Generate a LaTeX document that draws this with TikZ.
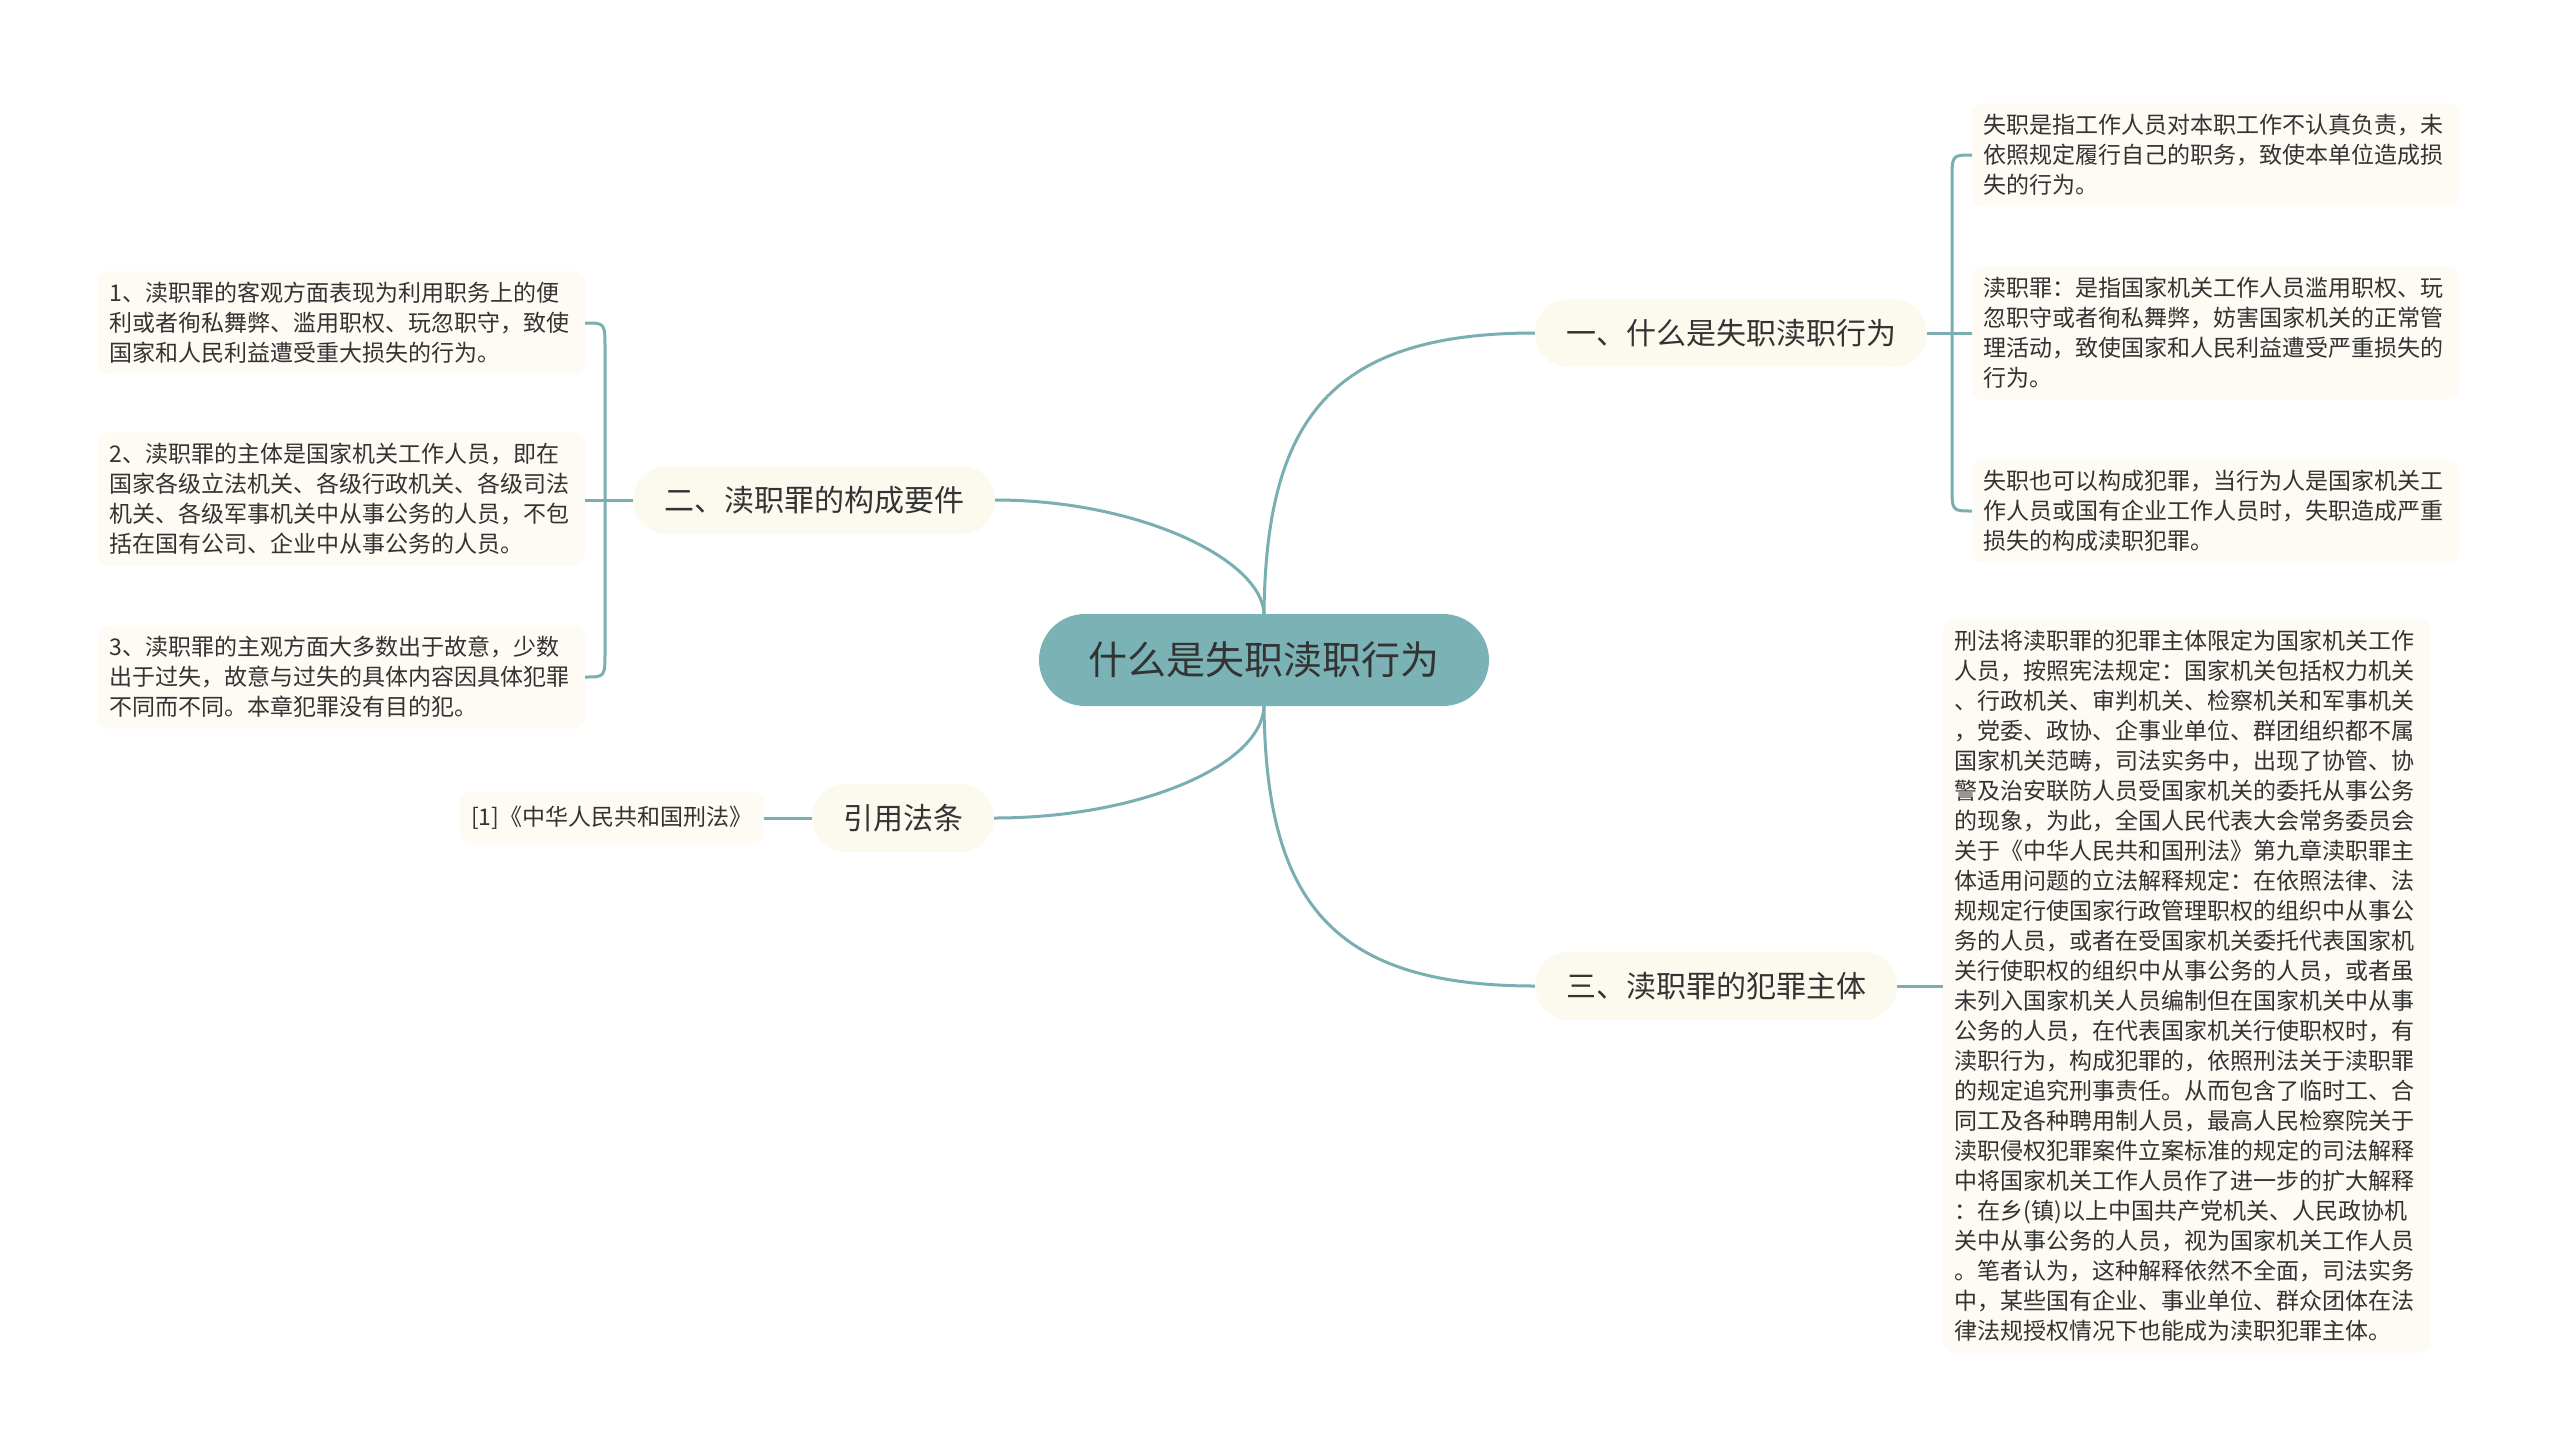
\documentclass[tikz,border=0pt]{standalone}
\usepackage{fontspec}
\setmainfont{Noto Sans CJK SC}

\definecolor{rootfill}{HTML}{7AB2B5}
\definecolor{linkcol}{HTML}{79AFB1}
\definecolor{topicfill}{HTML}{FCF9EF}
\definecolor{leaffill}{HTML}{FDFBF4}
\definecolor{ink}{HTML}{333333}

\begin{document}
\begin{tikzpicture}[x=1pt, y=-1pt,
	rootnode/.style={fill=rootfill, text=ink, rounded corners=46pt, minimum height=92pt, minimum width=450pt, font=\fontsize{39}{46}\selectfont},
	topic/.style={fill=topicfill, text=ink, rounded corners=34pt, minimum height=68pt, inner xsep=31pt, font=\fontsize{30}{36}\selectfont},
	leaf/.style={fill=leaffill, text=ink, rounded corners=10pt, text width=464pt, inner xsep=11.5pt, inner ysep=11pt, align=left, font=\fontsize{23}{30}\selectfont},
	refleaf/.style={fill=leaffill, text=ink, rounded corners=10pt, minimum height=52pt, minimum width=304pt, font=\fontsize{23}{30}\selectfont},
	link/.style={draw=linkcol, line width=3pt}]

		\useasboundingbox[fill=white] (0,0) rectangle (2560,1454);

		\node[rootnode] (root) at (1264,660) {什么是失职渎职行为};
		\node[topic] (t1) at (1731,333) {一、什么是失职渎职行为};
		\node[topic] (t2) at (814,500) {二、渎职罪的构成要件};
		\node[topic] (t3) at (1716,986) {三、渎职罪的犯罪主体};
		\node[topic] (t4) at (903,818) {引用法条};

		\node[leaf, anchor=west] (a1) at (1972,155) {失职是指工作人员对本职工作不认真负责，未\\依照规定履行自己的职务，致使本单位造成损\\失的行为。};
		\node[leaf, anchor=west] (a2) at (1972,333) {渎职罪：是指国家机关工作人员滥用职权、玩\\忽职守或者徇私舞弊，妨害国家机关的正常管\\理活动，致使国家和人民利益遭受严重损失的\\行为。};
		\node[leaf, anchor=west] (a3) at (1972,511) {失职也可以构成犯罪，当行为人是国家机关工\\作人员或国有企业工作人员时，失职造成严重\\损失的构成渎职犯罪。};

		\node[leaf, anchor=east] (b1) at (585,323) {1、渎职罪的客观方面表现为利用职务上的便\\利或者徇私舞弊、滥用职权、玩忽职守，致使\\国家和人民利益遭受重大损失的行为。};
		\node[leaf, anchor=east] (b2) at (585,499) {2、渎职罪的主体是国家机关工作人员，即在\\国家各级立法机关、各级行政机关、各级司法\\机关、各级军事机关中从事公务的人员，不包\\括在国有公司、企业中从事公务的人员。};
		\node[leaf, anchor=east] (b3) at (585,677) {3、渎职罪的主观方面大多数出于故意，少数\\出于过失，故意与过失的具体内容因具体犯罪\\不同而不同。本章犯罪没有目的犯。};

		\node[leaf, anchor=west] (c1) at (1943,986) {刑法将渎职罪的犯罪主体限定为国家机关工作\\人员，按照宪法规定：国家机关包括权力机关\\、行政机关、审判机关、检察机关和军事机关\\，党委、政协、企事业单位、群团组织都不属\\国家机关范畴，司法实务中，出现了协管、协\\警及治安联防人员受国家机关的委托从事公务\\的现象，为此，全国人民代表大会常务委员会\\关于《中华人民共和国刑法》第九章渎职罪主\\体适用问题的立法解释规定：在依照法律、法\\规规定行使国家行政管理职权的组织中从事公\\务的人员，或者在受国家机关委托代表国家机\\关行使职权的组织中从事公务的人员，或者虽\\未列入国家机关人员编制但在国家机关中从事\\公务的人员，在代表国家机关行使职权时，有\\渎职行为，构成犯罪的，依照刑法关于渎职罪\\的规定追究刑事责任。从而包含了临时工、合\\同工及各种聘用制人员，最高人民检察院关于\\渎职侵权犯罪案件立案标准的规定的司法解释\\中将国家机关工作人员作了进一步的扩大解释\\：在乡(镇)以上中国共产党机关、人民政协机\\关中从事公务的人员，视为国家机关工作人员\\。笔者认为，这种解释依然不全面，司法实务\\中，某些国有企业、事业单位、群众团体在法\\律法规授权情况下也能成为渎职犯罪主体。};

		\node[refleaf, anchor=east] (d1) at (764,818) {[1]《中华人民共和国刑法》};

		\draw[link] (root.north) .. controls (1266,420) and (1330,333) .. (t1.west);
		\draw[link] (root.north) .. controls (1262,560) and (1140,500) .. (t2.east);
		\draw[link] (root.south) .. controls (1266,900) and (1330,986) .. (t3.west);
		\draw[link] (root.south) .. controls (1262,765) and (1140,818) .. (t4.east);

		\draw[link] (t1.east) -- (a2.west);
		\draw[link] (a1.west) .. controls ([xshift=-20pt]a1.west) .. ([xshift=-20pt,yshift=-25pt]a1.west) -- ([xshift=-20pt,yshift=25pt]a3.west) .. controls ([xshift=-20pt]a3.west) .. (a3.west);

		\draw[link] (t2.west) -- (t2.west -| b2.east);
		\draw[link] (b1.east) .. controls ([xshift=20pt]b1.east) .. ([xshift=20pt,yshift=-25pt]b1.east) -- ([xshift=20pt,yshift=25pt]b3.east) .. controls ([xshift=20pt]b3.east) .. (b3.east);

		\draw[link] (t3.east) -- (c1.west);
		\draw[link] (t4.west) -- (d1.east);

\end{tikzpicture}
\end{document}
